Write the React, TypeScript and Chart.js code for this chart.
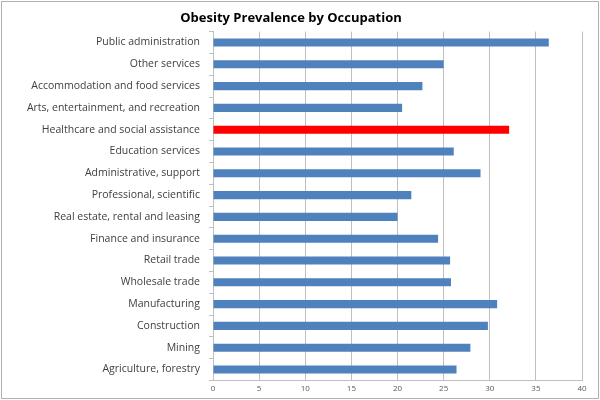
import React, { useEffect, useRef } from "react";
import { Chart, registerables } from "chart.js";

Chart.register(...registerables);

// Occupations, listed top to bottom as they appear on the axis
const occupations = [
  "Public administration",
  "Other services",
  "Accommodation and food services",
  "Arts, entertainment, and recreation",
  "Healthcare and social assistance",
  "Education services",
  "Administrative, support",
  "Professional, scientific",
  "Real estate, rental and leasing",
  "Finance and insurance",
  "Retail trade",
  "Wholesale trade",
  "Manufacturing",
  "Construction",
  "Mining",
  "Agriculture, forestry",
];

// Obesity prevalence (%) for each occupation
const prevalence = [
  36.4, 25.0, 22.7, 20.5, 32.1, 26.1, 29.0, 21.5, 20.0, 24.4, 25.7, 25.8, 30.8,
  29.8, 27.9, 26.4,
];

const highlighted = "Healthcare and social assistance";
const chartTitle = "Obesity Prevalence by Occupation";

const BLUE = "#4F81BD";
const RED = "#FF0000";
const GRID = "#BFBFBF";

const framePlugin = {
  id: "frame",
  beforeDraw(chart: any) {
    const { ctx, width, height } = chart;
    ctx.save();
    ctx.fillStyle = "#FFFFFF";
    ctx.fillRect(0, 0, width, height);
    ctx.restore();
  },
  afterDraw(chart: any) {
    const { ctx, width, height } = chart;
    ctx.save();
    ctx.strokeStyle = "#B0B0B0";
    ctx.lineWidth = 1;
    ctx.strokeRect(1.5, 1.5, width - 3, height - 3);
    ctx.restore();
  },
};

export default function App() {
  const canvasRef = useRef<HTMLCanvasElement | null>(null);

  useEffect(() => {
    const canvas = canvasRef.current;
    if (!canvas) return;
    const chart = new Chart(canvas, {
      type: "bar",
      data: {
        labels: occupations,
        datasets: [
          {
            data: prevalence,
            backgroundColor: occupations.map((o) => (o === highlighted ? RED : BLUE)),
            barPercentage: 0.37,
            categoryPercentage: 1,
          },
        ],
      },
      plugins: [framePlugin],
      options: {
        indexAxis: "y",
        responsive: false,
        animation: false,
        devicePixelRatio: 1,
        layout: { padding: { left: 0, right: 18, top: 4, bottom: 2 } },
        plugins: {
          legend: { display: false },
          tooltip: { enabled: false },
          title: {
            display: true,
            text: chartTitle,
            color: "#000000",
            font: { family: "'Open Sans', sans-serif", size: 13, weight: "bold" },
            padding: { top: 6, bottom: 6 },
          },
        },
        scales: {
          x: {
            min: 0,
            max: 40,
            ticks: {
              stepSize: 5,
              color: "#595959",
              font: { family: "'Open Sans', sans-serif", size: 8 },
              padding: 4,
            },
            grid: { color: GRID, drawTicks: false },
            border: { color: GRID },
          },
          y: {
            ticks: {
              color: "#404040",
              font: { family: "'Open Sans', sans-serif", size: 10.5 },
              padding: 9,
            },
            grid: { drawOnChartArea: false, tickLength: 4, color: GRID, offset: true },
            border: { color: GRID },
            afterFit: (scale: any) => {
              scale.width = 213;
            },
          },
        },
      },
    } as any);
    return () => chart.destroy();
  }, []);

  return (
    <div style={{ position: "fixed", left: 0, top: 0, width: 600, height: 400 }}>
      <canvas ref={canvasRef} width={600} height={400} style={{ display: "block" }} />
    </div>
  );
}
